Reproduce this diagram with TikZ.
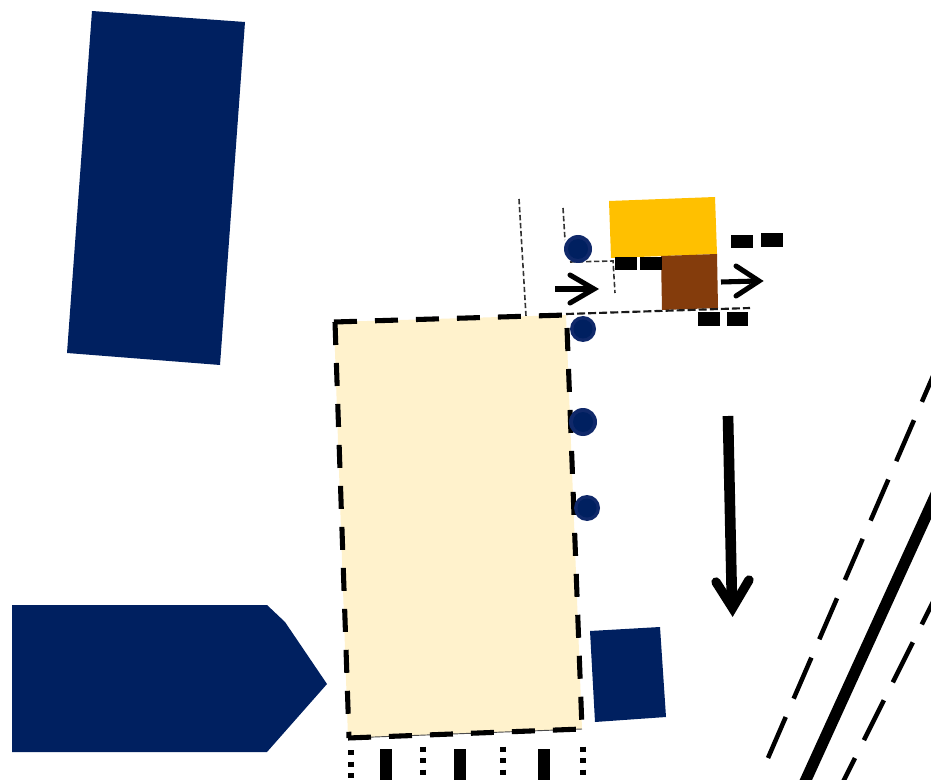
\documentclass[tikz,border=0pt]{standalone}
\definecolor{navy}{HTML}{002060}
\definecolor{ring}{HTML}{10296A}
\definecolor{cream}{HTML}{FFF2CC}
\definecolor{gold}{HTML}{FFC000}
\definecolor{brownish}{HTML}{843C0C}
\tikzset{
  navyshape/.style={fill=navy,draw=none},
  marker/.style={fill=black,draw=none},
  thindash/.style={draw=black!80,line width=1.2pt,dash pattern=on 4pt off 2pt},
  longdash/.style={draw=black!90,line width=1.6pt,dash pattern=on 6pt off 2.3pt},
  border/.style={draw=black,line width=3.8pt,dash pattern=on 17.25pt off 13.5pt},
  polering/.style={fill=ring,draw=none},
  polecore/.style={fill=navy,draw=none},
  openarrow/.style={draw=black,line width=3.8pt},
  chevron/.style={draw=black,line width=3.8pt,line cap=round,line join=miter},
  dotline/.style={draw=black,line width=4.5pt,dash pattern=on 3.8pt off 4.9pt},
  bar/.style={draw=black,line width=9pt},
  lane/.style={draw=black,line width=3.4pt,dash pattern=on 33.5pt off 15pt}
}
\begin{document}
\begin{tikzpicture}[x=0.75pt,y=-0.75pt]
\useasboundingbox (0,0) rectangle (931,780);
\clip (0,0) rectangle (931,780);
\fill[white] (0,0) rectangle (931,780);
% navy buildings
\path[navyshape] (92,11) -- (245,22) -- (220,365) -- (67,353) -- cycle;
\path[navyshape] (12,605) -- (267,605) -- (285,622) -- (327,684) -- (267,752) -- (12,752) -- cycle;
\path[navyshape] (590,631) -- (660,627) -- (666,717) -- (595,722) -- cycle;
% thin dashed
\path[thindash] (519,199) -- (526,316);
\path[thindash] (563,208) -- (565,240);
\path[thindash] (570,262) -- (613,261) -- (615,293);
% cream
\fill[cream] (334,322) -- (566,315) -- (582,729) -- (348,738) -- cycle;
\draw[black!70,line width=0.7pt] (348,738) -- (582,729);
\path[border] (334,322) -- (566,315);
\path[border] (335,322) -- (349,738);
\path[border] (348,738) -- (582,729);
\path[border] (567,328) -- (582,729);
% gold, brown
\fill[gold] (609,201) -- (715,197) -- (717,254) -- (611,258) -- cycle;
\fill[brownish] (661,256) -- (717,254) -- (718,308) -- (662,310) -- cycle;
\path[longdash] (566,314) -- (750,308);
% small markers
\path[marker] (731,235) rectangle (753,248);
\path[marker] (761,233) rectangle (783,247);
\path[marker] (615,257) rectangle (637,270);
\path[marker] (640,257) rectangle (662,270);
\path[marker] (698,312) rectangle (720,326);
\path[marker] (727,312) rectangle (748,326);
% poles
\path[polering] (578,249) circle[radius=14];
\path[polecore] (578,249) circle[radius=10];
\path[polering] (583,329) circle[radius=13];
\path[polecore] (583,329) circle[radius=9.5];
\path[polering] (583,422) circle[radius=14];
\path[polecore] (583,422) circle[radius=10];
\path[polering] (587,508) circle[radius=13];
\path[polecore] (587,508) circle[radius=9.5];
% arrows
\path[openarrow] (555,289) -- (594,289);
\path[chevron] (570,275) -- (594,289) -- (570,303);
\path[openarrow] (721,282) -- (758,281);
\path[chevron] (736,266) -- (759,281) -- (736,296);
\path[openarrow,line width=8pt] (728,416) -- (732,605);
\path[chevron,line width=7pt] (716,582) -- (732.5,608) -- (749,580);
% bottom markings
\path[dotline] (351,750) -- (351,780);
\path[dotline] (423,746.5) -- (423,780);
\path[dotline] (503,746.5) -- (503,780);
\path[dotline] (583,746.5) -- (583,780);
\path[bar] (386,749) -- (386,780);
\path[bar] (460,749) -- (460,780);
\path[bar] (544,749) -- (544,780);
% road
\path[lane] (768,758) -- (948.6,340);
\path[draw=black,line width=8.5pt] (804,784) -- (979,400);
\path[lane] (835,798) -- (960,548);
\end{tikzpicture}
\end{document}
